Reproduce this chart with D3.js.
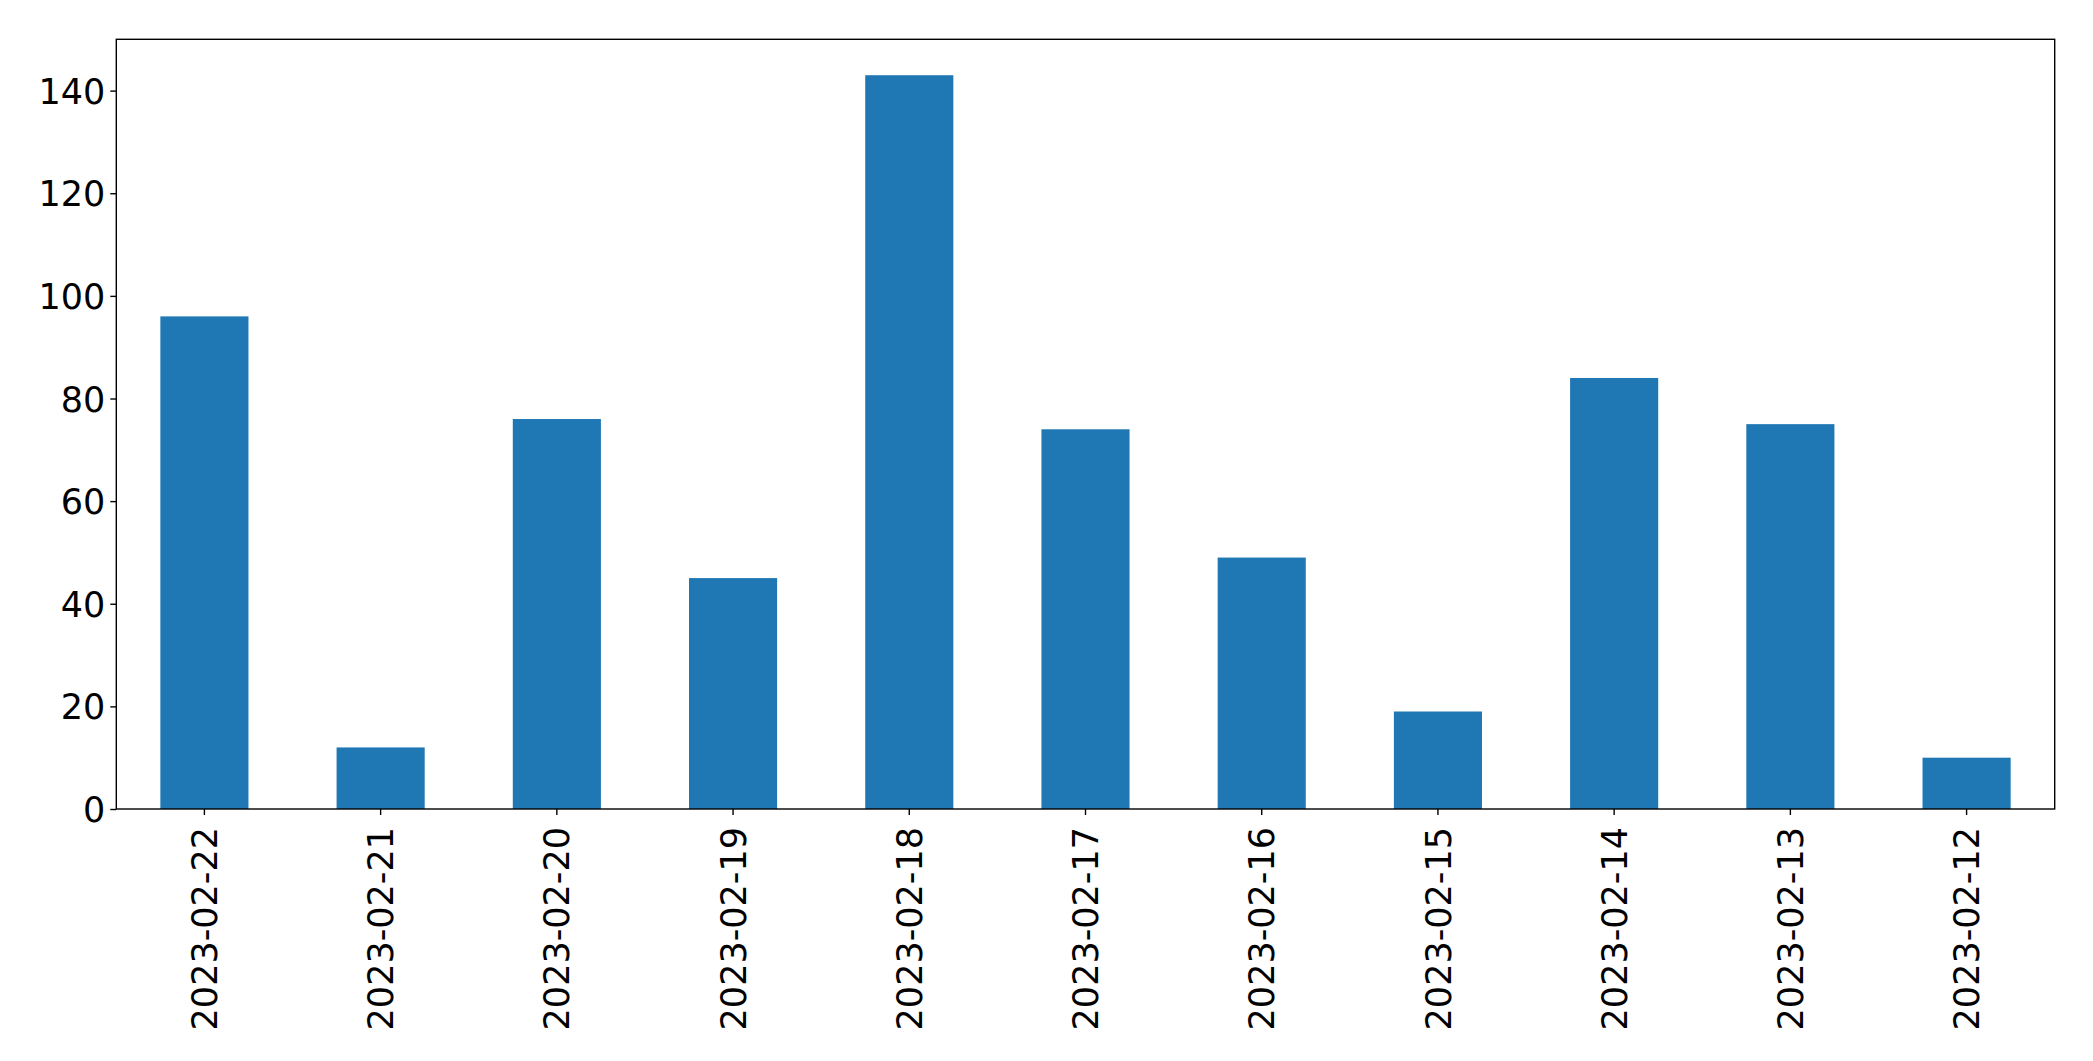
<!DOCTYPE html>
<html>
<head>
<meta charset="utf-8">
<script src="https://cdn.jsdelivr.net/npm/d3@7"></script>
<style>
  html, body { margin: 0; padding: 0; background: #fff; }
  svg { display: block; }
</style>
</head>
<body>
<svg id="chart" width="2093" height="1061"></svg>
<script>
const categories = ["2023-02-22","2023-02-21","2023-02-20","2023-02-19","2023-02-18","2023-02-17","2023-02-16","2023-02-15","2023-02-14","2023-02-13","2023-02-12"];
const values = [96, 12, 76, 45, 143, 74, 49, 19, 84, 75, 10];
const yTicks = [0, 20, 40, 60, 80, 100, 120, 140];
const yMax = 150;

(function () {
const W = 2093, H = 1061;
const mLeft = 116.3, mRight = 2054.7, mTop = 39.3, mBottom = 809;
const fontFamily = "'DejaVu Sans', sans-serif";
const fontSize = 35;

const svg = d3.select("#chart");
svg.append("rect").attr("x",0).attr("y",0).attr("width",W).attr("height",H).attr("fill","#fff");

const x = d3.scaleBand().domain(categories).range([mLeft, mRight]).paddingInner(0.5).paddingOuter(0.25);
const y = d3.scaleLinear().domain([0, yMax]).range([mBottom, mTop]);

// bars
svg.append("g").selectAll("rect").data(categories).join("rect")
  .attr("x", d => x(d))
  .attr("width", x.bandwidth())
  .attr("y", (d,i) => y(values[i]))
  .attr("height", (d,i) => y(0) - y(values[i]))
  .attr("fill", "#1f77b4");

// y axis
const yAxis = svg.append("g").attr("transform", `translate(${mLeft},0)`)
  .call(d3.axisLeft(y).tickValues(yTicks).tickSize(6).tickPadding(5).tickFormat(d3.format("d")));
yAxis.select(".domain").remove();
yAxis.selectAll(".tick line").attr("stroke", "#000").attr("stroke-width", 1.4);
yAxis.selectAll(".tick text")
  .attr("font-family", fontFamily).attr("font-size", fontSize).attr("fill", "#000")
  .attr("dy", "0.36em");

// x axis
const xAxis = svg.append("g").attr("transform", `translate(0,${mBottom})`)
  .call(d3.axisBottom(x).tickSize(6).tickPadding(0));
xAxis.select(".domain").remove();
xAxis.selectAll(".tick line").attr("stroke", "#000").attr("stroke-width", 1.4);
xAxis.selectAll(".tick text")
  .attr("font-family", fontFamily).attr("font-size", fontSize).attr("fill", "#000")
  .attr("text-anchor", "end")
  .attr("transform", "translate(0,18) rotate(-90)")
  .attr("x", 0).attr("y", 0)
  .attr("dy", "0.36em");

// frame
svg.append("rect")
  .attr("x", mLeft).attr("y", mTop)
  .attr("width", mRight - mLeft).attr("height", mBottom - mTop)
  .attr("fill", "none").attr("stroke", "#000").attr("stroke-width", 1.4);
})();
</script>
</body>
</html>
